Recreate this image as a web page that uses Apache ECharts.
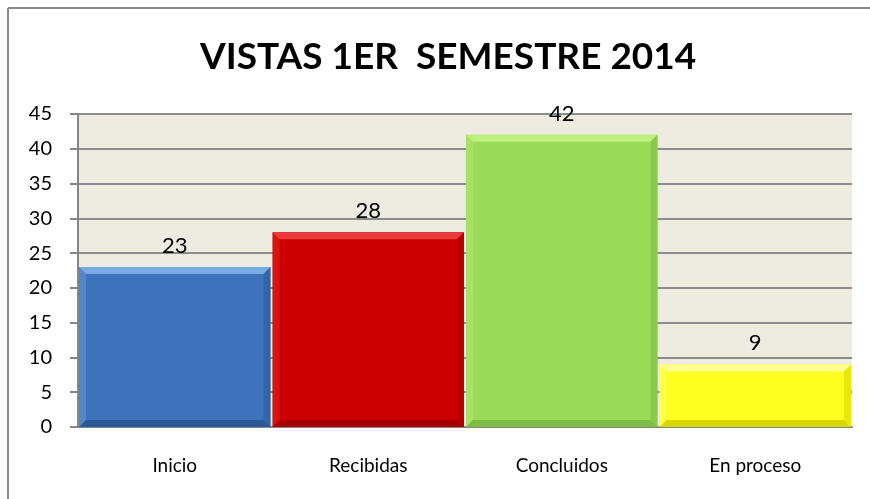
<!DOCTYPE html>
<html>
<head>
<meta charset="utf-8">
<script src="https://cdn.jsdelivr.net/npm/echarts@6/dist/echarts.min.js"></script>
<style>
  html, body { margin: 0; padding: 0; background: #fff; }
  #chart { width: 870px; height: 499px; }
</style>
</head>
<body>
<div id="chart"></div>
<script>
// data
const categories = ['Inicio', 'Recibidas', 'Concluidos', 'En proceso'];
const values = [23, 28, 42, 9];
const yTicks = [0, 5, 10, 15, 20, 25, 30, 35, 40, 45];

// base / light top / dark bottom per bar
const barColors = [
  { base: '#3f74bc', light: '#78a8e6', dark: '#2c5a98' },
  { base: '#cc0000', light: '#ea3a3a', dark: '#a80000' },
  { base: '#9bdb5a', light: '#bdf07f', dark: '#7fbd44' },
  { base: '#ffff22', light: '#ffff90', dark: '#d8d800' },
];

const font = 'Lato, "Open Sans", sans-serif';
const chart = echarts.init(document.getElementById('chart'));

function renderBar(params, api) {
  const i = api.value(0);
  const v = api.value(1);
  const top = api.coord([i, v]);
  const bottom = api.coord([i, 0]);
  const w = api.size([1, 0])[0] - 2;
  const x0 = top[0] - w / 2;
  const x1 = top[0] + w / 2;
  const y0 = top[1];
  const y1 = bottom[1];
  const b = Math.min(7, (y1 - y0) / 3);
  const c = barColors[i];
  return {
    type: 'group',
    children: [
      { type: 'rect', shape: { x: x0, y: y0, width: w, height: y1 - y0 },
        style: { fill: c.base } },
      { type: 'polygon', shape: { points: [[x0, y0], [x1, y0], [x1 - b, y0 + b], [x0 + b, y0 + b]] },
        style: { fill: c.light } },
      { type: 'polygon', shape: { points: [[x0, y0], [x0 + b, y0 + b], [x0 + b, y1 - b], [x0, y1]] },
        style: { fill: c.light, opacity: 0.35 } },
      { type: 'polygon', shape: { points: [[x1, y0], [x1, y1], [x1 - b, y1 - b], [x1 - b, y0 + b]] },
        style: { fill: c.dark, opacity: 0.6 } },
      { type: 'polygon', shape: { points: [[x0, y1], [x0 + b, y1 - b], [x1 - b, y1 - b], [x1, y1]] },
        style: { fill: c.dark } },
      { type: 'text', x: top[0], y: y0 - 21,
        style: { text: String(v), fill: '#000', font: '22px ' + font,
                 align: 'center', verticalAlign: 'middle' } },
    ],
  };
}

chart.setOption({
  animation: false,
  backgroundColor: '#fff',
  title: {
    text: 'VISTAS 1ER  SEMESTRE 2014',
    left: 195,
    top: 34,
    textStyle: { fontFamily: font, fontWeight: 'bold', fontSize: 37, color: '#000' },
  },
  graphic: [
    { type: 'line', shape: { x1: 8, y1: 8, x2: 870, y2: 8 },
      style: { stroke: '#8a8a8a', lineWidth: 2 } },
    { type: 'line', shape: { x1: 8, y1: 8, x2: 8, y2: 499 },
      style: { stroke: '#8a8a8a', lineWidth: 2 } },
  ],
  grid: {
    left: 78, right: 18, top: 114, bottom: 72,
    show: true, backgroundColor: '#eeebe0', borderWidth: 0,
  },
  xAxis: {
    type: 'category',
    data: categories,
    axisLine: { lineStyle: { color: '#868686', width: 2 } },
    axisTick: { show: false },
    axisLabel: { color: '#000', fontFamily: font, fontSize: 19, margin: 29 },
  },
  yAxis: {
    type: 'value',
    min: yTicks[0],
    max: yTicks[yTicks.length - 1],
    interval: 5,
    axisLine: { show: true, lineStyle: { color: '#868686', width: 2 } },
    axisTick: { show: true, length: 8, lineStyle: { color: '#868686', width: 2 } },
    axisLabel: { color: '#000', fontFamily: font, fontSize: 20, margin: 26 },
    splitLine: { lineStyle: { color: '#8c8c8c', width: 2 } },
  },
  series: [{
    type: 'custom',
    renderItem: renderBar,
    data: values.map((v, i) => [i, v]),
    encode: { x: 0, y: 1 },
    z: 3,
  }],
});
</script>
</body>
</html>
